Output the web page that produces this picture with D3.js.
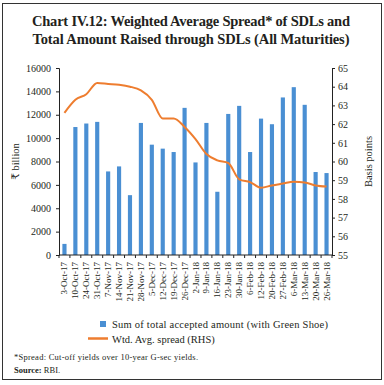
<!DOCTYPE html>
<html>
<head>
<meta charset="utf-8">
<script src="https://cdn.jsdelivr.net/npm/d3@7"></script>
<style>
  body { margin: 0; background: #fff; }
  text { font-family: "Liberation Serif", "DejaVu Serif", serif; fill: #231f20; }
</style>
</head>
<body>
<div id="chart"></div>
<script>
var dates = ["3-Oct-17", "10-Oct-17", "24-Oct-17", "31-Oct-17", "7-Nov-17", "14-Nov-17", "21-Nov-17",
  "28-Nov-17", "5-Dec-17", "12-Dec-17", "19-Dec-17", "26-Dec-17", "2-Jan-18", "9-Jan-18", "16-Jan-18",
  "23-Jan-18", "30-Jan-18", "6-Feb-18", "12-Feb-18", "20-Feb-18", "27-Feb-18", "6-Mar-18", "13-Mar-18",
  "20-Mar-18", "26-Mar-18"];
var amount = [950, 10950, 11250, 11390, 7150, 7580, 5120, 11300, 9440, 9100, 8810, 12590, 7920,
  11300, 5410, 12070, 12760, 8810, 11670, 11190, 13480, 14360, 12850, 7100, 7010];
var spread = [62.6, 63.3, 63.6, 64.2, 64.15, 64.1, 64.0, 63.8, 63.3, 62.3, 62.3, 61.85, 61.2,
  60.4, 60.06, 59.92, 59.05, 58.9, 58.6, 58.72, 58.82, 58.92, 58.88, 58.72, 58.66];
var leftTicks = [0, 2000, 4000, 6000, 8000, 10000, 12000, 14000, 16000];
var rightTicks = [55, 56, 57, 58, 59, 60, 61, 62, 63, 64, 65];

var W = 384, H = 385;
var m = { left: 59, right: 52, top: 68, bottom: 130 };

var svg = d3.select("#chart").append("svg")
  .attr("width", W).attr("height", H);

// frame
svg.append("rect").attr("x", 2.5).attr("y", 3.5).attr("width", 379).attr("height", 376)
  .attr("fill", "none").attr("stroke", "#333").attr("stroke-width", 1);

// title
var title = svg.append("text").attr("text-anchor", "middle")
  .style("font-size", "14.5px").style("font-weight", "bold");
title.append("tspan").attr("x", 191).attr("y", 26).attr("textLength", 318)
  .text("Chart IV.12: Weighted Average Spread* of SDLs and");
title.append("tspan").attr("x", 191).attr("y", 44).attr("textLength", 317)
  .text("Total Amount Raised through SDLs (All Maturities)");

var x = d3.scaleBand().domain(dates).range([m.left, W - m.right]).paddingInner(0.62).paddingOuter(0.31);
var y = d3.scaleLinear().domain([0, 16000]).range([H - m.bottom, m.top]);
var y2 = d3.scaleLinear().domain([55, 65]).range([H - m.bottom, m.top]);

// bars
svg.append("g").selectAll("rect").data(amount).enter().append("rect")
  .attr("x", (d, i) => x(dates[i]))
  .attr("y", d => y(d))
  .attr("width", x.bandwidth())
  .attr("height", d => y(0) - y(d))
  .attr("fill", "#4a8fd3");

// line
var line = d3.line()
  .x((d, i) => x(dates[i]) + x.bandwidth() / 2)
  .y(d => y2(d))
  .curve(d3.curveMonotoneX);
svg.append("path").datum(spread)
  .attr("d", line)
  .attr("fill", "none")
  .attr("stroke", "#ee7d2f")
  .attr("stroke-width", 2);

// axes
var gl = svg.append("g").attr("transform", "translate(" + m.left + ",0)")
  .call(d3.axisLeft(y).tickValues(leftTicks).tickFormat(d3.format("d")).tickSize(3).tickPadding(5));
var gr = svg.append("g").attr("transform", "translate(" + (W - m.right) + ",0)")
  .call(d3.axisRight(y2).tickValues(rightTicks).tickSize(3).tickPadding(3));
[gl, gr].forEach(g => {
  g.select(".domain").attr("stroke", "#222");
  g.selectAll(".tick line").attr("stroke", "#222");
  g.selectAll("text").style("font-size", "10px").attr("font-family", null);
});

// x axis with ticks at band edges
var gx = svg.append("g").attr("transform", "translate(0," + y(0) + ")");
gx.append("line").attr("x1", m.left).attr("x2", W - m.right).attr("stroke", "#222");
var step = x.step();
gx.selectAll(".edge").data(d3.range(dates.length + 1)).enter().append("line")
  .attr("x1", i => m.left + i * step).attr("x2", i => m.left + i * step)
  .attr("y1", 0).attr("y2", 3).attr("stroke", "#222");
gx.selectAll(".lab").data(dates).enter().append("text")
  .attr("transform", d => "translate(" + (x(d) + x.bandwidth() / 2 + 3) + ",7) rotate(-90)")
  .attr("text-anchor", "end")
  .style("font-size", "9px")
  .text(d => d);

// axis titles
svg.append("text").attr("transform", "translate(19," + ((m.top + y(0)) / 2) + ") rotate(-90)")
  .attr("text-anchor", "middle").style("font-size", "10.5px").text("₹ billion");
svg.append("text").attr("transform", "translate(372," + ((m.top + y(0)) / 2) + ") rotate(-90)")
  .attr("text-anchor", "middle").style("font-size", "10.5px").text("Basis points");

// legend
svg.append("rect").attr("x", 100).attr("y", 321).attr("width", 6).attr("height", 6).attr("fill", "#4a8fd3");
svg.append("text").attr("x", 112).attr("y", 328).style("font-size", "10.5px").attr("textLength", 216)
  .text("Sum of total accepted amount (with Green Shoe)");
svg.append("line").attr("x1", 88).attr("x2", 108).attr("y1", 338.5).attr("y2", 338.5)
  .attr("stroke", "#ee7d2f").attr("stroke-width", 2.5);
svg.append("text").attr("x", 112).attr("y", 343).style("font-size", "10.5px")
  .text("Wtd. Avg. spread (RHS)");

// notes
svg.append("text").attr("x", 14).attr("y", 360).style("font-size", "8.5px").attr("textLength", 184)
  .text("*Spread: Cut-off yields over 10-year G-sec yields.");
var src = svg.append("text").attr("x", 14).attr("y", 373).style("font-size", "8.5px");
src.append("tspan").style("font-weight", "bold").text("Source: ");
src.append("tspan").text("RBI.");
</script>
</body>
</html>
